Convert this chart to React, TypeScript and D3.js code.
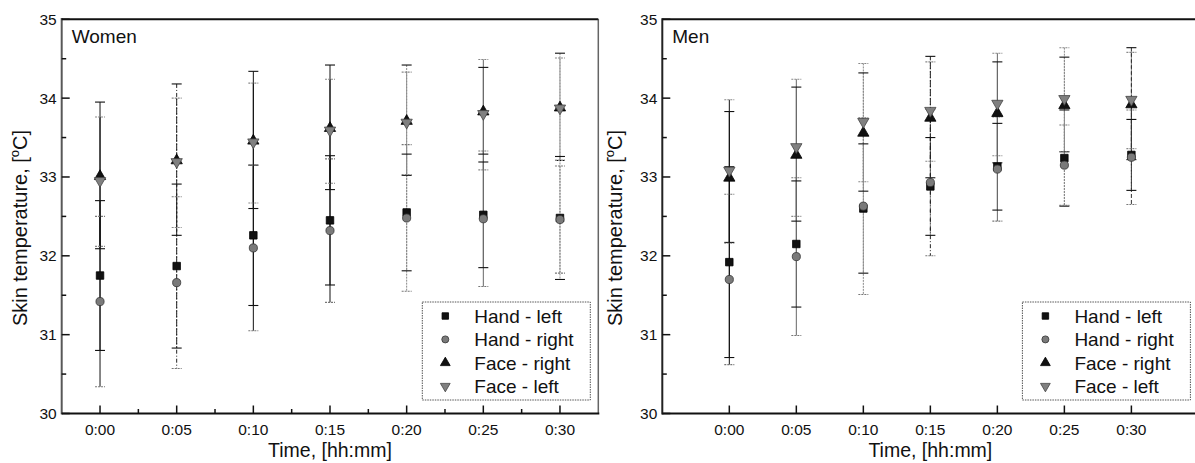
import React from "react";
import * as d3 from "d3";

// ---------- data ----------
const times = [0, 5, 10, 15, 20, 25, 30];
const timeLabels = ["0:00", "0:05", "0:10", "0:15", "0:20", "0:25", "0:30"];
const yTicks = [30, 31, 32, 33, 34, 35];
const seriesNames = ["Hand - left", "Hand - right", "Face - right", "Face - left"];

const womenHandLeft = [31.75, 31.87, 32.26, 32.45, 32.55, 32.52, 32.48];
const womenHandLeftErr = [0.95, 1.04, 0.89, 0.82, 0.74, 0.67, 0.78];
const womenHandRight = [31.42, 31.66, 32.1, 32.32, 32.48, 32.47, 32.46];
const womenHandRightErr = [1.08, 1.09, 1.05, 0.91, 0.93, 0.86, 0.68];
const womenFaceRight = [33.02, 33.22, 33.47, 33.63, 33.72, 33.84, 33.89];
const womenFaceRightErr = [0.93, 0.96, 0.87, 0.79, 0.7, 0.55, 0.68];
const womenFaceLeft = [32.94, 33.18, 33.43, 33.58, 33.68, 33.79, 33.86];
const womenFaceLeftErr = [0.82, 0.82, 0.76, 0.66, 0.65, 0.7, 0.65];

const menHandLeft = [31.92, 32.15, 32.6, 32.88, 33.13, 33.24, 33.28];
const menHandLeftErr = [1.21, 0.8, 0.82, 0.62, 0.55, 0.61, 0.45];
const menHandRight = [31.7, 31.99, 32.63, 32.93, 33.1, 33.15, 33.25];
const menHandRightErr = [1.08, 1.0, 1.12, 0.93, 0.66, 0.51, 0.6];
const menFaceRight = [33.0, 33.29, 33.57, 33.76, 33.82, 33.92, 33.93];
const menFaceRightErr = [0.83, 0.85, 0.75, 0.77, 0.64, 0.6, 0.71];
const menFaceLeft = [33.07, 33.37, 33.69, 33.83, 33.92, 33.98, 33.97];
const menFaceLeftErr = [0.91, 0.87, 0.75, 0.63, 0.65, 0.66, 0.61];

// ---------- styles ----------
const FONT = "'Liberation Sans', Arial, Helvetica, sans-serif";
const barStyles: Record<string, { stroke: string; dash?: string }> = {
  solid: { stroke: "#111" },
  solidgray: { stroke: "#666" },
  dashdot: { stroke: "#222", dash: "4,2,1,2" },
  dotgray: { stroke: "#888", dash: "2,1" },
  dash: { stroke: "#333", dash: "4,2" },
};
const womenBarStyle = ["solid", "dashdot", "solid", "solid", "dotgray", "solidgray", "dotgray"];
const menBarStyle = ["solid", "solidgray", "dotgray", "dashdot", "solidgray", "dotgray", "dash"];
const capStyles = [
  { stroke: "#111" },
  { stroke: "#777", dash: "2,1" },
  { stroke: "#111" },
  { stroke: "#888", dash: "2,1" },
];
const markerDefs = [
  { type: d3.symbolSquare, size: 56, fill: "#111", stroke: "#000", rot: 0 },
  { type: d3.symbolCircle, size: 52, fill: "#7a7a7a", stroke: "#333", rot: 0 },
  { type: d3.symbolTriangle, size: 55, fill: "#111", stroke: "#000", rot: 0 },
  { type: d3.symbolTriangle, size: 55, fill: "#808080", stroke: "#444", rot: 180 },
];

type PanelProps = {
  label: string;
  left: number;
  right: number;
  xDomain: [number, number];
  minorX: boolean;
  means: number[][];
  errs: number[][];
  barStyle: string[];
  yLabelX: number;
  dottedLeft: boolean;
};

const TOP = 19.3;
const BOTTOM = 413.5;

function Panel(p: PanelProps) {
  const x = d3.scaleLinear().domain(p.xDomain).range([p.left, p.right]);
  const y = d3.scaleLinear().domain([30, 35]).range([BOTTOM, TOP]);
  const yMinor = d3.range(30.5, 35, 1);
  const xMinor = p.minorX ? d3.range(2.5, 30, 5) : [];
  const cap = 5;
  const cx = (p.left + p.right) / 2;
  const legRight = p.right - 8;
  const legW = 168;
  const legTop = 302;
  const rowH = 23.4;

  return (
    <g fontFamily={FONT}>
      {/* error bars */}
      {p.means.map((s, si) =>
        s.map((m, i) => {
          const bs = barStyles[p.barStyle[i]];
          const xi = x(times[i]);
          return (
            <line
              key={`v${si}-${i}`}
              x1={xi}
              x2={xi}
              y1={y(m + p.errs[si][i])}
              y2={y(m - p.errs[si][i])}
              stroke={bs.stroke}
              strokeDasharray={bs.dash}
              strokeWidth={1}
            />
          );
        })
      )}
      {p.means.map((s, si) =>
        s.map((m, i) => {
          const xi = x(times[i]);
          const cs = capStyles[si];
          return (
            <g key={`c${si}-${i}`} stroke={cs.stroke} strokeDasharray={cs.dash} strokeWidth={1.1}>
              <line x1={xi - cap} x2={xi + cap} y1={y(m + p.errs[si][i])} y2={y(m + p.errs[si][i])} />
              <line x1={xi - cap} x2={xi + cap} y1={y(m - p.errs[si][i])} y2={y(m - p.errs[si][i])} />
            </g>
          );
        })
      )}
      {/* markers */}
      {p.means.map((s, si) =>
        s.map((m, i) => {
          const md = markerDefs[si];
          const path = d3.symbol().type(md.type).size(md.size)() as string;
          return (
            <path
              key={`m${si}-${i}`}
              d={path}
              transform={`translate(${x(times[i])},${y(m) + (md.rot ? -0.9 : md.type === d3.symbolTriangle ? 0.9 : 0)}) rotate(${md.rot})`}
              fill={md.fill}
              stroke={md.stroke}
              strokeWidth={0.8}
            />
          );
        })
      )}
      {/* frame */}
      <line x1={p.left} x2={p.right} y1={TOP} y2={TOP} stroke="#111" strokeWidth={2} />
      <line x1={p.right} x2={p.right} y1={TOP} y2={BOTTOM} stroke="#333" strokeWidth={1.5} strokeDasharray={p.dottedLeft ? "1.5,0.5" : undefined} />
      <line x1={p.left} x2={p.right + 1} y1={BOTTOM} y2={BOTTOM} stroke="#111" strokeWidth={2} />
      <line x1={p.left} x2={p.left} y1={TOP - 1} y2={BOTTOM + 1} stroke="#222" strokeWidth={2} strokeDasharray={p.dottedLeft ? "1.5,0.5" : undefined} />
      {/* y ticks */}
      {yTicks.map((t) => (
        <g key={`yt${t}`}>
          <line x1={p.left} x2={p.left + 8} y1={y(t)} y2={y(t)} stroke="#111" strokeWidth={1.5} />
          <text x={p.left - 5} y={y(t)} dy="0.35em" textAnchor="end" fontSize={15.5} fill="#111">
            {t}
          </text>
        </g>
      ))}
      {yMinor.map((t) => (
        <line key={`ym${t}`} x1={p.left} x2={p.left + 4.5} y1={y(t)} y2={y(t)} stroke="#111" strokeWidth={1.5} />
      ))}
      {/* x ticks */}
      {times.map((t, i) => (
        <g key={`xt${t}`}>
          <line x1={x(t)} x2={x(t)} y1={BOTTOM} y2={BOTTOM - 8} stroke="#111" strokeWidth={1.5} />
          <text x={x(t)} y={435} textAnchor="middle" fontSize={15.5} fill="#111">
            {timeLabels[i]}
          </text>
        </g>
      ))}
      {xMinor.map((t) => (
        <line key={`xm${t}`} x1={x(t)} x2={x(t)} y1={BOTTOM} y2={BOTTOM - 4.5} stroke="#111" strokeWidth={1.5} />
      ))}
      {/* titles */}
      <text x={cx} y={457} textAnchor="middle" fontSize={19.5} fill="#111">
        Time, [hh:mm]
      </text>
      <text
        transform={`translate(${p.yLabelX},228) rotate(-90)`}
        textAnchor="middle"
        fontSize={20}
        fill="#111"
      >
        Skin temperature, [
        <tspan fontSize={13} dy={-8}>
          o
        </tspan>
        <tspan dy={8}>C]</tspan>
      </text>
      <text x={p.left + 10} y={43} fontSize={19} fill="#111">
        {p.label}
      </text>
      {/* legend */}
      <rect
        x={legRight - legW}
        y={legTop}
        width={legW}
        height={98}
        fill="white"
        stroke="#555"
        strokeWidth={1}
        strokeDasharray="1.5,1"
      />
      {seriesNames.map((n, i) => {
        const md = markerDefs[i];
        const path = d3.symbol().type(md.type).size(md.size * 0.75)() as string;
        const ry = legTop + 14 + i * rowH;
        return (
          <g key={`lg${i}`}>
            <path d={path} transform={`translate(${legRight - legW + 23},${ry}) rotate(${md.rot})`} fill={md.fill} stroke={md.stroke} strokeWidth={0.8} />
            <text x={legRight - legW + 52} y={ry} dy="0.36em" fontSize={19} fill="#111">
              {n}
            </text>
          </g>
        );
      })}
    </g>
  );
}

export default function App() {
  return (
    <svg width={1195} height={463} style={{ position: "absolute", left: 0, top: 0, background: "white" }}>
      <rect width={1195} height={463} fill="white" />
      <Panel
        label="Women"
        left={61.7}
        right={598.3}
        xDomain={[-2.5, 32.5]}
        minorX={true}
        means={[womenHandLeft, womenHandRight, womenFaceRight, womenFaceLeft]}
        errs={[womenHandLeftErr, womenHandRightErr, womenFaceRightErr, womenFaceLeftErr]}
        barStyle={womenBarStyle}
        yLabelX={27}
        dottedLeft={true}
      />
      <Panel
        label="Men"
        left={662.3}
        right={1198.4}
        xDomain={[-5, 35]}
        minorX={false}
        means={[menHandLeft, menHandRight, menFaceRight, menFaceLeft]}
        errs={[menHandLeftErr, menHandRightErr, menFaceRightErr, menFaceLeftErr]}
        barStyle={menBarStyle}
        yLabelX={622}
        dottedLeft={false}
      />
    </svg>
  );
}
